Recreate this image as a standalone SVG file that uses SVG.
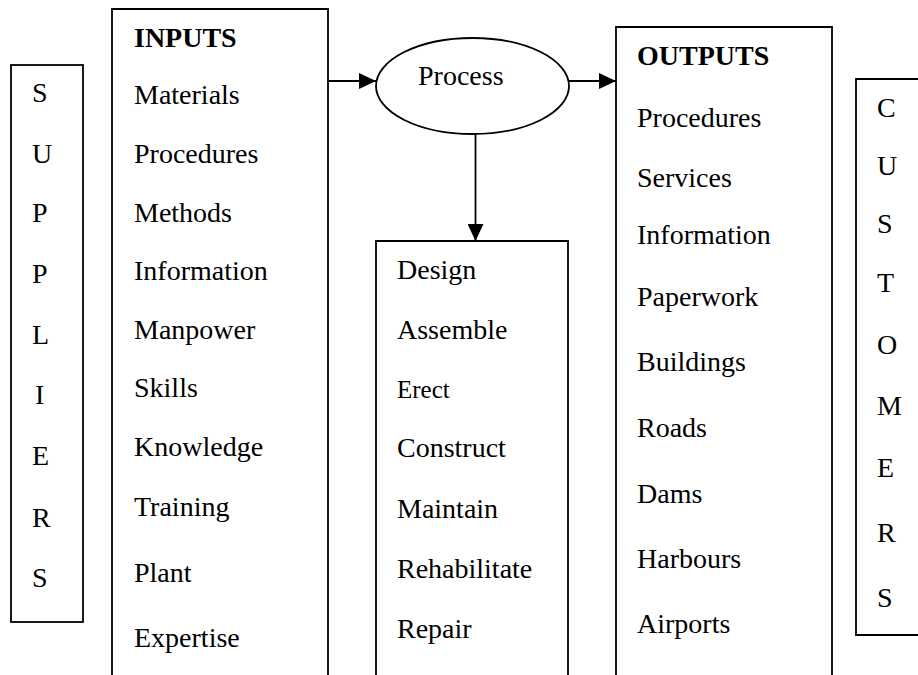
<svg xmlns="http://www.w3.org/2000/svg" width="918" height="675" viewBox="0 0 918 675">
  <style>
    .box { fill: #fff; stroke: #000; stroke-width: 1.8; }
    .edge { fill: none; stroke: #000; stroke-width: 1.8; }
    text { font-family: "Liberation Serif", "Times New Roman", serif; font-size: 28px; fill: #000; }
    .head { font-weight: bold; }
    .small { font-size: 25px; }
  </style>
  <defs>
    <marker id="arrow" markerWidth="17" markerHeight="16" refX="17" refY="8" orient="auto" markerUnits="userSpaceOnUse">
      <path d="M0,0 L17,8 L0,16 Z" fill="#000"/>
    </marker>
  </defs>
  <rect width="918" height="675" fill="#fff"/>

  <!-- Suppliers column -->
  <g id="suppliers">
    <rect class="box" x="11" y="65" width="72" height="557"/>
    <text x="32" y="102">S</text>
    <text x="32" y="163">U</text>
    <text x="32" y="222">P</text>
    <text x="32" y="283">P</text>
    <text x="32" y="344">L</text>
    <text x="35" y="404">I</text>
    <text x="32" y="465">E</text>
    <text x="32" y="527">R</text>
    <text x="32" y="587">S</text>
  </g>

  <!-- Inputs (open at the bottom) -->
  <g id="inputs">
    <path class="box" d="M112,690 V9 H328 V690"/>
    <text class="head" x="134" y="47">INPUTS</text>
    <text x="134" y="104">Materials</text>
    <text x="134" y="163">Procedures</text>
    <text x="134" y="222">Methods</text>
    <text x="134" y="280">Information</text>
    <text x="134" y="339">Manpower</text>
    <text x="134" y="397">Skills</text>
    <text x="134" y="456">Knowledge</text>
    <text x="134" y="516">Training</text>
    <text x="134" y="582">Plant</text>
    <text x="134" y="647">Expertise</text>
  </g>

  <!-- Process ellipse -->
  <g id="process">
    <ellipse class="box" cx="472.5" cy="86" rx="96.5" ry="48"/>
    <text x="418" y="85">Process</text>
  </g>

  <!-- Activities (open at the bottom) -->
  <g id="activities">
    <path class="box" d="M376,690 V241 H568 V690"/>
    <text x="397" y="279">Design</text>
    <text x="397" y="339">Assemble</text>
    <text class="small" x="397" y="398">Erect</text>
    <text x="397" y="457">Construct</text>
    <text x="397" y="518">Maintain</text>
    <text x="397" y="578">Rehabilitate</text>
    <text x="397" y="638">Repair</text>
  </g>

  <!-- Outputs (open at the bottom) -->
  <g id="outputs">
    <path class="box" d="M616,690 V27 H832 V690"/>
    <text class="head" x="637" y="65">OUTPUTS</text>
    <text x="637" y="127">Procedures</text>
    <text x="637" y="187">Services</text>
    <text x="637" y="244">Information</text>
    <text x="637" y="306">Paperwork</text>
    <text x="637" y="371">Buildings</text>
    <text x="637" y="437">Roads</text>
    <text x="637" y="503">Dams</text>
    <text x="637" y="568">Harbours</text>
    <text x="637" y="633">Airports</text>
  </g>

  <!-- Customers column (runs past the right edge) -->
  <g id="customers">
    <path class="box" d="M930,79 H856 V635 H930"/>
    <text x="877" y="117">C</text>
    <text x="877" y="175">U</text>
    <text x="877" y="233">S</text>
    <text x="877" y="292">T</text>
    <text x="877" y="354">O</text>
    <text x="877" y="415">M</text>
    <text x="877" y="477">E</text>
    <text x="877" y="542">R</text>
    <text x="877" y="607">S</text>
  </g>

  <!-- Connectors -->
  <g id="connectors">
    <line class="edge" x1="328" y1="81" x2="376" y2="81" marker-end="url(#arrow)"/>
    <line class="edge" x1="569" y1="81" x2="616" y2="81" marker-end="url(#arrow)"/>
    <line class="edge" x1="475.5" y1="134" x2="475.5" y2="241" marker-end="url(#arrow)"/>
  </g>
</svg>
